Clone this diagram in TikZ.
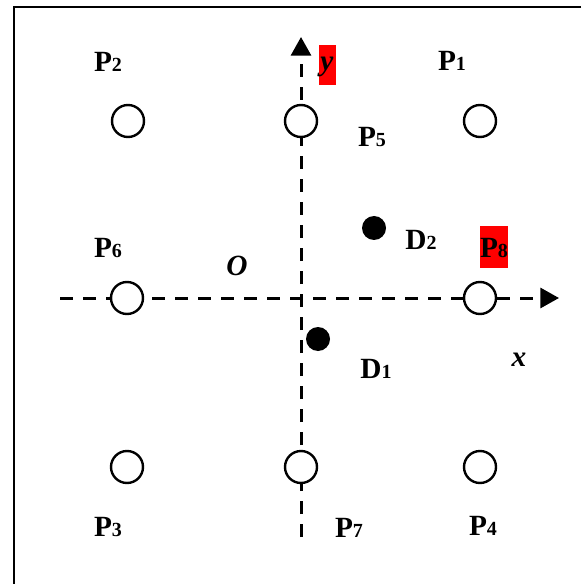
\documentclass[tikz,border=0pt]{standalone}
\usepackage{fontspec}
\setmainfont{Liberation Serif}
\usetikzlibrary{arrows.meta}
\newcommand\sdg[1]{{\fontsize{15}{15}\selectfont #1}}
\begin{document}
\begin{tikzpicture}[x=0.75pt,y=-0.75pt,
  ring/.style={circle,draw=black,fill=white,line width=1.8pt,minimum size=24pt,inner sep=0pt},
  dot/.style={circle,fill=black,minimum size=18pt,inner sep=0pt},
  axis/.style={line width=2.25pt,dash pattern=on 9.75pt off 7.5pt,-{Triangle[length=14pt,width=15pt]}},
  lbl/.style={font=\fontsize{22}{22}\selectfont\bfseries,inner sep=0pt},
  ilbl/.style={font=\fontsize{22}{22}\selectfont\bfseries\itshape,inner sep=0pt},
  redbox/.style={fill=red,draw=none}]
\useasboundingbox (0,0) rectangle (581,584);
% frame
\draw[line width=1.6pt] (581,7) -- (14,7) -- (14,584);
% highlight boxes
\fill[red] (319,45) rectangle (336,85);
\fill[red] (480,226) rectangle (508,268);
% axes
\coordinate (xs) at (60,298);
\coordinate (xe) at (559,298);
\coordinate (ys) at (301,537);
\coordinate (ye) at (301,37);
\draw[axis] (xs) -- (xe);
\draw[axis] (ys) -- (ye);
% sensor rings
\node[ring] (p2) at (128,121) {};
\node[ring] (p5) at (301,121) {};
\node[ring] (p1) at (480,121) {};
\node[ring] (p6) at (127,298) {};
\node[ring] (p8) at (480,298) {};
\node[ring] (p3) at (127,467) {};
\node[ring] (p7) at (301,467) {};
\node[ring] (p4) at (480,467) {};
% dots
\node[dot] (d2) at (374,228) {};
\node[dot] (d1) at (318,339) {};
% labels
\node[lbl] (lp2) at (108,62) {P\sdg{2}};
\node[lbl] (lp1) at (452,61) {P\sdg{1}};
\node[lbl] (lp5) at (372,137) {P\sdg{5}};
\node[ilbl] (ly) at (327,67) {y};
\node[lbl] (lp6) at (108,248) {P\sdg{6}};
\node[ilbl] (lo) at (237,266) {O};
\node[lbl] (ld2) at (421,240) {D\sdg{2}};
\node[lbl] (lp8) at (494,248) {P\sdg{8}};
\node[lbl] (ld1) at (376,369) {D\sdg{1}};
\node[ilbl] (lx) at (519,360) {x};
\node[lbl] (lp3) at (108,527) {P\sdg{3}};
\node[lbl] (lp7) at (349,528) {P\sdg{7}};
\node[lbl] (lp4) at (483,526) {P\sdg{4}};
\end{tikzpicture}
\end{document}
